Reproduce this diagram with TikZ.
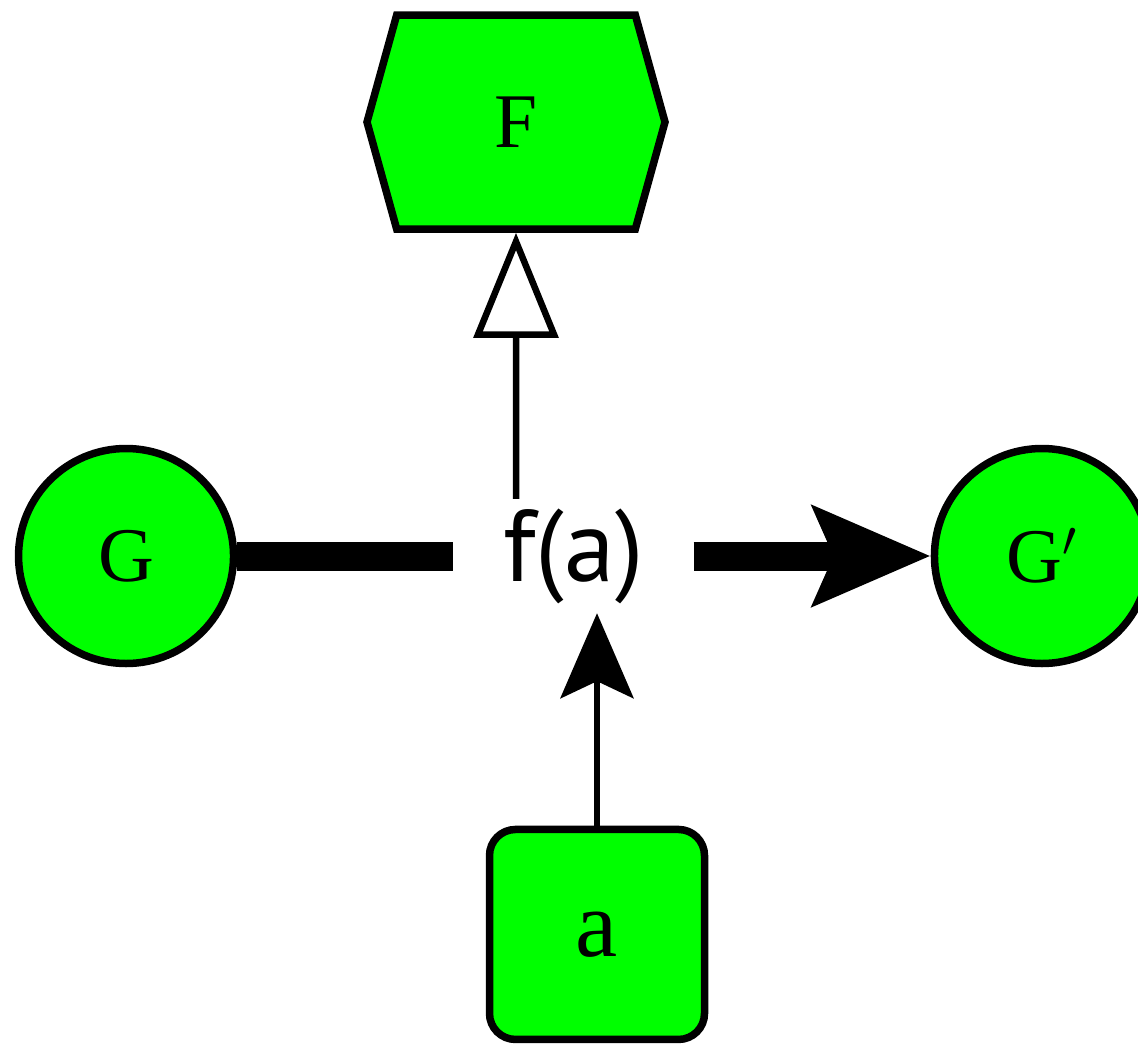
\documentclass[tikz,border=0pt]{standalone}
\usepackage{fontspec}
\usepackage{xcolor}
\usetikzlibrary{arrows.meta,positioning,shapes.symbols}
\setmainfont{Liberation Serif}
\newfontfamily\funcfont{PT Sans}
\definecolor{nodegreen}{HTML}{00FF00}

\begin{document}
\begin{tikzpicture}[
  base/.style={draw=black,line width=0.075cm,fill=nodegreen,inner sep=0pt,font=\fontsize{22}{26}\selectfont},
  obj/.style={base,circle,minimum size=2.15cm},
  arg/.style={base,rounded corners=0.26cm,minimum width=2.15cm,minimum height=2.10cm,font=\fontsize{27}{30}\selectfont},
  type/.style={base,signal,signal to=west and east,signal pointer angle=149,minimum width=2.98cm,minimum height=2.14cm},
  func/.style={inner sep=0pt,minimum width=2.39cm,minimum height=1.13cm,font=\funcfont\fontsize{29}{32}\selectfont},
  thinarr/.style={line width=0.065cm},
  thickarr/.style={line width=0.29cm}
]
\useasboundingbox (0,0) rectangle (11.38,-10.48);
\node[func] (fa) at (5.735,-5.56) {f(a)};
\node[obj,left=2.16cm of fa] (G) {G};
\node[obj,right=2.37cm of fa] (G2) {G$'$};
\node[type,above=2.66cm of fa,xshift=-5.75mm] (F) {F};
\node[arg,below=2.125cm of fa,xshift=2.35mm] (a) {a};
\draw[thickarr] (G)--(fa);
\draw[thickarr,-{Stealth[length=1.17cm,width=0.98cm,inset=0.2cm]}] (fa)--(G2);
\draw[thinarr,-{Triangle[open,length=1.05cm,width=0.84cm]}] (F |- fa.north)--(F);
\draw[thinarr,-{Stealth[length=0.85cm,width=0.73cm,inset=0.17cm]}] (a)--(a |- fa.south);
\end{tikzpicture}
\end{document}
